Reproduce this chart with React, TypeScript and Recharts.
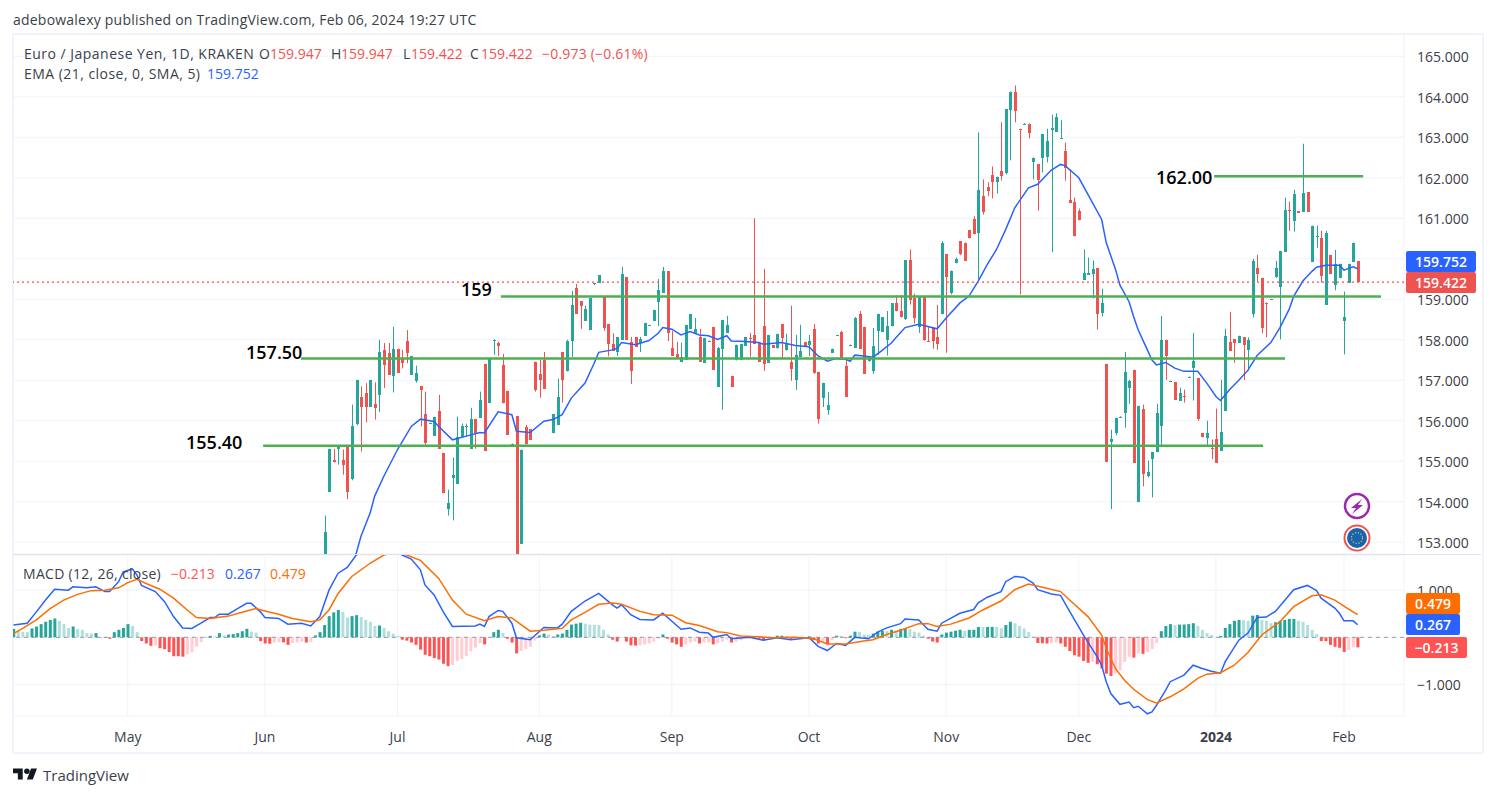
import React from 'react';
import {
  ComposedChart,
  Bar,
  Line,
  Cell,
  XAxis,
  YAxis,
  CartesianGrid,
  ReferenceLine,
} from 'recharts';

const FONT = '"Open Sans", sans-serif';
const UP = '#26a69a';
const DOWN = '#ef5350';
const GRID = '#f0f3fa';
const TEXT = '#3b3f4a';
const BLUE = '#2962ff';
const ORANGE = '#ff6d00';
const GREEN = '#4caf50';

const BAR_COUNT = 295;
const X_DOMAIN = [-0.11, 304.13];

const monthTicks = [25, 55, 84, 115, 144, 174, 204, 233, 263, 291];
const monthLabels = ['May', 'Jun', 'Jul', 'Aug', 'Sep', 'Oct', 'Nov', 'Dec', '2024', 'Feb'];
const priceTicks = [153, 154, 155, 156, 157, 158, 159, 160, 161, 162, 163, 164, 165];
const macdTicks = [-1, 0, 1];

// first visible candle, everything earlier sits under the price panel
const FIRST_CANDLE = 68;

// open, high, low, close
const ohlc: (number[] | null)[] = [
  [151.9, 153.66, 151.6, 153.26],
  [154.26, 155.31, 154.26, 155.31],
  [155.02, 155.31, 154.97, 154.97],
  [155.29, 155.39, 154.92, 155.39],
  [155.02, 155.29, 154.67, 154.89],
  [155.34, 155.34, 154.06, 154.23],
  [154.56, 156.4, 154.53, 155.88],
  [155.93, 157.01, 155.89, 157.01],
  [156.59, 156.85, 155.24, 156.35],
  [156.69, 156.93, 155.96, 156.35],
  [156.35, 157.01, 156.35, 157.01],
  [156.42, 156.95, 156.03, 156.32],
  [156.65, 158.0, 156.22, 157.7],
  [157.75, 157.92, 156.81, 157.39],
  [157.68, 157.92, 157.14, 157.14],
  [157.12, 158.32, 156.7, 157.78],
  [157.78, 157.78, 157.19, 157.19],
  [157.54, 157.75, 157.29, 157.41],
  [157.97, 158.24, 157.42, 157.68],
  [157.14, 157.6, 157.14, 157.6],
  [156.99, 157.36, 156.94, 157.18],
  [156.86, 156.86, 155.86, 156.77],
  [156.17, 156.72, 155.37, 155.46],
  [155.94, 155.95, 155.93, 155.95],
  [155.62, 156.1, 155.62, 156.1],
  [156.25, 156.64, 155.32, 155.32],
  [155.21, 155.21, 154.21, 154.21],
  [153.83, 154.3, 153.66, 153.98],
  [154.57, 155.09, 153.54, 154.65],
  [154.46, 156.1, 154.46, 155.61],
  [155.61, 155.93, 155.61, 155.88],
  [155.87, 155.93, 155.61, 155.88],
  [155.31, 156.32, 155.31, 156.05],
  [156.05, 156.05, 155.31, 155.71],
  [156.08, 156.72, 156.08, 156.52],
  [157.41, 157.41, 155.25, 155.25],
  [156.45, 157.55, 156.45, 157.55],
  [157.99, 158.01, 157.63, 158.0],
  [157.92, 157.95, 157.6, 157.85],
  [157.38, 157.65, 156.43, 156.43],
  [156.74, 156.74, 155.66, 155.66],
  [155.42, 155.44, 155.41, 155.43],
  [156.12, 156.12, 152.4, 152.5],
  [152.97, 155.29, 152.97, 155.29],
  [155.85, 155.9, 155.41, 155.43],
  [155.8, 155.8, 155.53, 155.53],
  [157.46, 157.46, 156.72, 156.77],
  [157.16, 157.5, 156.57, 157.0],
  [157.5, 157.7, 156.79, 156.79],
  null,
  [155.69, 156.17, 155.69, 156.17],
  [155.89, 157.04, 155.89, 156.59],
  [157.7, 157.7, 156.45, 157.0],
  [157.22, 158.0, 157.22, 157.97],
  [157.97, 159.21, 157.58, 158.86],
  [159.28, 159.38, 158.64, 158.64],
  [158.96, 158.96, 158.27, 158.84],
  [158.47, 158.84, 158.47, 158.76],
  [158.24, 159.03, 158.24, 159.03],
  [159.37, 159.4, 159.35, 159.4],
  [159.4, 159.6, 159.4, 159.6],
  [159.08, 159.08, 158.22, 158.29],
  [158.39, 158.39, 157.59, 157.9],
  [157.9, 158.16, 157.73, 157.73],
  [157.7, 158.07, 157.6, 158.07],
  [158.0, 159.8, 158.0, 159.63],
  [159.55, 159.55, 158.0, 158.0],
  [157.94, 158.07, 156.91, 157.23],
  [158.07, 158.07, 157.83, 157.83],
  [157.92, 158.07, 157.7, 158.02],
  [158.1, 158.42, 158.1, 158.42],
  [158.35, 158.37, 158.34, 158.36],
  [158.47, 158.74, 158.47, 158.74],
  [158.94, 159.5, 158.34, 159.23],
  [159.16, 159.8, 159.16, 159.7],
  [159.7, 159.7, 157.97, 158.17],
  [157.8, 158.22, 157.6, 157.6],
  [157.65, 157.95, 157.55, 157.55],
  [157.45, 157.93, 157.45, 157.58],
  [157.5, 158.37, 157.5, 158.37],
  [158.26, 158.64, 158.26, 158.64],
  [158.15, 158.54, 158.15, 158.26],
  [158.07, 158.27, 157.46, 157.46],
  [157.43, 158.05, 157.43, 158.05],
  [157.96, 157.98, 157.95, 157.97],
  [158.32, 158.32, 157.26, 157.26],
  [156.84, 157.82, 156.84, 157.8],
  [157.78, 158.49, 156.27, 158.49],
  [158.17, 158.59, 158.17, 158.37],
  [157.11, 157.11, 156.84, 156.84],
  [157.51, 157.88, 157.49, 157.88],
  [157.51, 157.9, 157.51, 157.9],
  [157.85, 158.07, 157.85, 158.07],
  [158.05, 158.17, 157.58, 158.04],
  [158.12, 161.0, 157.9, 157.9],
  [157.92, 157.92, 157.46, 157.46],
  [158.34, 159.75, 157.23, 157.41],
  [157.43, 158.12, 157.43, 158.12],
  [157.87, 157.87, 157.8, 157.8],
  [157.8, 158.15, 157.78, 158.15],
  [158.39, 158.39, 157.55, 158.05],
  [157.75, 158.15, 157.73, 157.92],
  [157.46, 158.84, 156.99, 157.28],
  [157.01, 158.12, 156.76, 157.63],
  [157.58, 158.37, 157.58, 157.73],
  [157.95, 157.95, 157.83, 157.83],
  [157.87, 158.12, 157.6, 157.97],
  [158.26, 158.39, 157.16, 157.18],
  [157.21, 157.21, 155.93, 156.05],
  [156.57, 156.94, 156.34, 156.94],
  [156.27, 156.71, 156.15, 156.39],
  [157.68, 157.78, 157.68, 157.78],
  [158.1, 158.12, 158.09, 158.11],
  [158.2, 158.22, 157.5, 157.5],
  [157.36, 157.5, 156.59, 156.59],
  [157.86, 157.88, 157.85, 157.87],
  [157.8, 158.56, 157.8, 158.54],
  [158.64, 158.71, 157.78, 157.78],
  [158.32, 158.32, 157.16, 157.16],
  [157.46, 157.57, 157.46, 157.57],
  [157.23, 158.29, 157.16, 157.85],
  [158.22, 158.64, 157.63, 158.64],
  [158.19, 158.56, 158.19, 158.56],
  [158.0, 158.71, 157.61, 158.34],
  [158.33, 158.9, 158.33, 158.9],
  [158.9, 159.1, 158.7, 158.7],
  [158.7, 159.1, 158.55, 158.55],
  [158.5, 159.96, 158.49, 159.96],
  [159.96, 160.23, 158.87, 158.97],
  [159.02, 159.14, 158.4, 158.53],
  [158.31, 159.05, 158.17, 159.05],
  [159.05, 159.05, 157.98, 157.98],
  [157.98, 158.31, 157.96, 157.96],
  [158.29, 158.32, 157.78, 157.98],
  [158.07, 158.86, 157.75, 157.9],
  [158.65, 160.43, 158.63, 160.4],
  [160.11, 160.11, 157.68, 159.54],
  [159.17, 159.71, 159.12, 159.71],
  [159.89, 160.03, 159.89, 159.99],
  [160.43, 160.43, 160.09, 160.11],
  [160.4, 160.4, 159.96, 159.96],
  [160.7, 160.7, 160.5, 160.5],
  [160.97, 161.05, 160.6, 160.6],
  [160.63, 163.12, 159.49, 161.69],
  [161.56, 161.96, 161.09, 161.17],
  [161.76, 161.89, 161.54, 161.66],
  [162.06, 162.28, 161.49, 161.89],
  [161.91, 162.03, 161.61, 162.03],
  [162.16, 163.37, 161.93, 162.03],
  [162.11, 163.69, 162.08, 163.69],
  [163.69, 164.13, 162.43, 164.13],
  [164.13, 164.28, 163.37, 163.66],
  [163.21, 163.21, 159.12, 163.19],
  [163.33, 163.35, 163.32, 163.34],
  [163.34, 163.34, 162.97, 163.12],
  [162.4, 162.5, 161.96, 162.5],
  [162.33, 162.33, 161.19, 161.93],
  [162.48, 163.07, 162.13, 163.07],
  [162.5, 163.21, 162.38, 162.9],
  [163.19, 163.56, 160.16, 163.24],
  [163.14, 163.59, 163.14, 163.51],
  [162.98, 163.42, 162.97, 162.99],
  [162.65, 162.87, 161.93, 162.23],
  [161.46, 162.21, 161.39, 161.39],
  [161.39, 161.51, 160.55, 160.55],
  [161.17, 161.24, 160.95, 160.95],
  [159.49, 160.23, 159.49, 159.66],
  [159.61, 160.03, 159.61, 159.66],
  [159.61, 159.96, 159.02, 159.74],
  [159.76, 159.76, 158.25, 158.62],
  [158.67, 159.26, 158.58, 158.92],
  [157.41, 157.41, 154.98, 154.98],
  [155.46, 155.78, 153.82, 155.54],
  [155.71, 156.08, 155.64, 156.08],
  [156.09, 156.11, 156.08, 156.1],
  [156.2, 157.7, 155.83, 157.21],
  [156.82, 157.01, 156.42, 156.99],
  [157.26, 157.26, 154.97, 154.97],
  [153.99, 156.37, 153.99, 156.37],
  [156.3, 156.4, 154.38, 154.7],
  [154.63, 155.02, 154.6, 154.73],
  [155.05, 155.22, 154.11, 155.22],
  [155.22, 156.42, 155.22, 156.18],
  [155.88, 158.59, 155.37, 158.0],
  [158.0, 158.0, 157.01, 157.6],
  [156.97, 156.99, 156.96, 156.98],
  [156.96, 156.96, 156.52, 156.52],
  [156.5, 156.82, 156.5, 156.69],
  [156.61, 156.77, 156.45, 156.6],
  [157.07, 157.09, 157.06, 157.08],
  [157.31, 158.17, 156.5, 157.48],
  [157.06, 157.06, 156.0, 156.05],
  [155.69, 155.69, 155.59, 155.59],
  [155.59, 156.0, 155.39, 155.71],
  [155.33, 155.54, 155.05, 155.32],
  [155.56, 156.3, 154.97, 154.97],
  [155.27, 157.01, 155.27, 155.73],
  [156.25, 158.27, 156.25, 158.1],
  [157.95, 158.69, 157.73, 157.73],
  [158.02, 158.02, 157.43, 157.92],
  [157.92, 158.1, 157.92, 158.1],
  [158.07, 158.07, 157.01, 157.88],
  [157.75, 158.06, 157.24, 158.0],
  [158.65, 160.0, 158.55, 159.95],
  [159.76, 160.1, 159.44, 159.61],
  [159.53, 159.53, 158.16, 158.3],
  [158.92, 158.92, 158.06, 158.89],
  [158.99, 159.01, 158.98, 159.0],
  [159.53, 159.95, 159.53, 159.76],
  [159.29, 160.18, 158.01, 160.18],
  [160.18, 161.51, 160.18, 161.21],
  [161.21, 161.41, 160.69, 161.19],
  [160.94, 161.7, 160.67, 161.6],
  [161.18, 161.18, 161.14, 161.14],
  [161.16, 162.84, 161.16, 161.63],
  [161.65, 161.65, 161.16, 161.16],
  [159.93, 160.82, 159.93, 160.82],
  [160.54, 160.82, 160.27, 160.55],
  [160.52, 160.69, 159.41, 159.58],
  [158.87, 160.69, 158.87, 160.64],
  [160.1, 160.1, 159.63, 159.63],
  [159.36, 160.22, 159.22, 159.88],
  [159.53, 159.88, 159.53, 159.88],
  [158.45, 159.19, 157.64, 158.55],
  [159.41, 159.88, 159.41, 159.88],
  [159.93, 160.4, 159.93, 160.4],
  [159.947, 159.947, 159.422, 159.422],
];

// EMA 21 read at [bar, value]
const emaPoints = [
  [72, 152.2], [75, 152.74], [76, 153.15], [78, 153.72], [79, 154.14], [81, 154.63], [84, 155.29], [87, 155.86],
  [89, 156.04], [92, 155.98], [93, 155.86], [96, 155.53], [99, 155.62], [102, 155.71], [103, 155.7], [106, 156.22],
  [109, 156.15], [110, 155.74], [113, 155.71], [116, 155.99], [118, 156.03], [120, 156.15], [122, 156.56],
  [125, 156.93], [127, 157.42], [128, 157.69], [131, 157.75], [132, 157.79], [133, 157.93], [136, 157.88],
  [139, 157.98], [141, 158.16], [142, 158.3], [144, 158.26], [146, 158.12], [148, 158.2], [150, 158.12], [152, 158.1],
  [154, 158.01], [156, 158.1], [157, 157.97], [160, 157.96], [163, 157.93], [164, 157.89], [168, 157.93],
  [171, 157.86], [174, 157.83], [175, 157.71], [176, 157.6], [178, 157.47], [180, 157.54], [182, 157.52], [183, 157.47],
  [184, 157.62], [186, 157.6], [188, 157.57], [190, 157.74], [192, 157.92], [193, 158.05], [195, 158.3], [198, 158.38],
  [202, 158.27], [204, 158.54], [207, 158.91], [209, 159.08], [211, 159.45], [213, 159.86], [215, 160.23], [217, 160.72],
  [219, 161.26], [222, 161.75], [224, 161.84], [227, 162.19], [229, 162.33], [230, 162.3], [233, 162.0], [235, 161.59],
  [238, 160.97], [239, 160.4], [241, 159.75], [242, 159.35], [244, 158.94], [245, 158.57], [246, 158.24], [248, 157.75],
  [249, 157.5], [250, 157.38], [252, 157.44], [254, 157.3], [256, 157.22], [259, 157.22], [261, 156.93], [263, 156.6],
  [264, 156.5], [266, 156.77], [268, 157.0], [270, 157.25], [272, 157.61], [275, 157.93], [277, 158.3], [279, 158.75],
  [280, 159.07], [282, 159.45], [284, 159.69], [285, 159.79], [287, 159.84], [290, 159.84], [291, 159.72], [293, 159.8],
  [294, 159.752],
];

const macdPoints = [
  [0, 0.26], [3, 0.3], [5, 0.54], [7, 0.79], [9, 1.02], [12, 1.0], [13, 1.07], [16, 1.05], [18, 1.07], [20, 0.97], [21, 0.97],
  [23, 1.18], [24, 1.39], [26, 1.45], [27, 1.32], [28, 1.1], [31, 0.97], [33, 0.76], [35, 0.44], [37, 0.2], [39, 0.19],
  [41, 0.3], [43, 0.42], [44, 0.42], [45, 0.49], [47, 0.49], [49, 0.61], [51, 0.72], [52, 0.72], [54, 0.54], [55, 0.42],
  [58, 0.4], [60, 0.28], [63, 0.3], [65, 0.24], [67, 0.44], [69, 1.0], [71, 1.36], [73, 1.48], [75, 1.75], [79, 1.9],
  [82, 1.95], [85, 1.745], [87, 1.66], [89, 1.43], [90, 1.11], [92, 0.9], [94, 0.54], [96, 0.23], [101, 0.24], [102, 0.28],
  [103, 0.23], [104, 0.44], [106, 0.57], [107, 0.55], [109, 0.3], [110, -0.01], [113, -0.05], [116, 0.21], [119, 0.2],
  [120, 0.28], [122, 0.55], [125, 0.77], [128, 0.93], [131, 0.69], [132, 0.62], [133, 0.69], [135, 0.48], [137, 0.38],
  [140, 0.37], [142, 0.51], [146, 0.17], [148, 0.2], [150, 0.11], [152, 0.09], [153, 0.0], [156, 0.06], [157, -0.03],
  [161, 0.0], [164, -0.06], [167, -0.01], [170, -0.05], [174, -0.01], [176, -0.19], [178, -0.28], [180, -0.13],
  [182, -0.17], [184, 0.0], [187, -0.03], [189, 0.11], [191, 0.2], [194, 0.29], [195, 0.39], [198, 0.37], [200, 0.17],
  [202, 0.13], [203, 0.3], [207, 0.51], [210, 0.59], [211, 0.73], [213, 0.85], [216, 0.97], [217, 1.18], [219, 1.29],
  [221, 1.27], [223, 1.15], [224, 1.01], [227, 0.92], [229, 0.89], [231, 0.55], [234, 0.05], [237, -0.41], [238, -0.59],
  [239, -0.94], [240, -1.19], [242, -1.42], [244, -1.37], [245, -1.49], [246, -1.46], [248, -1.62], [249, -1.58],
  [250, -1.44], [252, -1.12], [253, -0.94], [256, -0.8], [258, -0.59], [260, -0.66], [262, -0.72], [264, -0.76],
  [265, -0.52], [268, -0.06], [270, 0.09], [272, 0.42], [274, 0.43], [276, 0.55], [280, 1.01], [283, 1.1], [285, 0.99],
  [286, 0.83], [289, 0.62], [290, 0.51], [291, 0.35], [293, 0.35], [294, 0.267],
];

const signalPoints = [
  [0, 0.08], [2, 0.19], [5, 0.37], [8, 0.61], [11, 0.79], [14, 0.91], [17, 0.99], [20, 1.0], [23, 1.05], [25, 1.16],
  [27, 1.23], [29, 1.14], [32, 1.02], [35, 0.83], [38, 0.58], [40, 0.42], [43, 0.4], [47, 0.45], [50, 0.53], [53, 0.61],
  [55, 0.56], [58, 0.49], [61, 0.4], [65, 0.33], [67, 0.37], [69, 0.58], [71, 0.93], [74, 1.29], [78, 1.57], [81, 1.745],
  [84, 1.82], [86, 1.745], [89, 1.63], [93, 1.25], [96, 0.79], [99, 0.49], [103, 0.35], [106, 0.44], [109, 0.41], [111, 0.27],
  [113, 0.13], [116, 0.15], [120, 0.19], [122, 0.37], [125, 0.53], [128, 0.7], [131, 0.73], [133, 0.7], [137, 0.55], [140, 0.48],
  [144, 0.47], [147, 0.31], [150, 0.25], [154, 0.12], [156, 0.1], [159, 0.03], [163, 0.01], [166, -0.01], [171, 0.0],
  [175, -0.03], [178, -0.14], [182, -0.14], [186, -0.08], [188, -0.05], [191, 0.06], [194, 0.15], [198, 0.29], [200, 0.29],
  [202, 0.23], [205, 0.28], [209, 0.41], [212, 0.58], [216, 0.77], [219, 1.01], [222, 1.13], [226, 1.04], [229, 0.97],
  [231, 0.79], [235, 0.44], [238, 0.05], [239, -0.23], [241, -0.66], [243, -0.91], [245, -1.1], [248, -1.32], [250, -1.39],
  [253, -1.26], [256, -1.09], [259, -0.87], [261, -0.78], [264, -0.75], [267, -0.59], [270, -0.32], [273, 0.05], [277, 0.33],
  [280, 0.65], [284, 0.88], [286, 0.9], [289, 0.79], [292, 0.6], [294, 0.479],
];

const histogram = [
  0.18, 0.15, 0.12, 0.11, 0.19, 0.23, 0.28, 0.33, 0.37, 0.4, 0.35, 0.28, 0.2, 0.23, 0.18, 0.16, 0.09, 0.08, 0.09, -0.01,
  -0.01, -0.03, 0.11, 0.16, 0.2, 0.28, 0.24, 0.11, -0.08, -0.13, -0.18, -0.17, -0.23, -0.25, -0.31, -0.4, -0.4, -0.41,
  -0.36, -0.32, -0.2, -0.1, 0.01, 0.03, 0.02, 0.09, 0.04, 0.06, 0.07, 0.09, 0.13, 0.18, 0.12, 0.1, -0.08, -0.13, -0.135,
  -0.11, -0.1, -0.106, -0.16, -0.12, -0.11, -0.09, -0.11, -0.1, 0.04, 0.11, 0.26, 0.45, 0.53, 0.58, 0.54, 0.42, 0.45,
  0.47, 0.43, 0.37, 0.33, 0.24, 0.25, 0.2, 0.13, 0.08, 0.03, -0.05, -0.07, -0.11, -0.16, -0.26, -0.37, -0.4, -0.44, -0.47,
  -0.56, -0.61, -0.59, -0.5, -0.46, -0.4, -0.3, -0.22, -0.12, -0.15, -0.01, 0.11, 0.16, 0.09, -0.03, -0.11, -0.34, -0.29,
  -0.24, -0.2, -0.07, 0.04, 0.08, 0.06, 0.03, 0.06, 0.08, 0.16, 0.27, 0.29, 0.31, 0.29, 0.27, 0.265, 0.26, 0.16, 0.06,
  -0.05, -0.09, -0.01, -0.09, -0.17, -0.175, -0.17, -0.15, -0.13, -0.09, -0.03, 0.06, -0.03, -0.11, -0.15, -0.2, -0.15,
  -0.11, -0.09, -0.13, -0.11, -0.105, -0.15, -0.13, -0.09, -0.05, -0.11, -0.09, -0.06, -0.01, -0.005, -0.015, -0.03,
  -0.06, -0.02, 0.0, 0.035, 0.035, 0.03, -0.03, -0.02, -0.025, -0.02, 0.02, -0.06, -0.13, -0.1, -0.15, -0.06, 0.035,
  0.03, -0.02, 0.035, 0.12, 0.115, 0.06, 0.055, 0.08, 0.12, 0.14, 0.135, 0.16, 0.14, 0.18, 0.18, 0.175, 0.12, 0.1, 0.035,
  -0.03, -0.09, -0.11, 0.06, 0.1, 0.12, 0.14, 0.16, 0.14, 0.16, 0.161, 0.22, 0.218, 0.22, 0.221, 0.22, 0.19, 0.26, 0.33,
  0.3, 0.24, 0.19, 0.11, 0.01, -0.12, -0.125, -0.13, -0.12, -0.11, -0.13, -0.2, -0.29, -0.38, -0.41, -0.5, -0.54, -0.52,
  -0.57, -0.66, -0.77, -0.82, -0.76, -0.7, -0.52, -0.41, -0.43, -0.34, -0.35, -0.31, -0.25, -0.12, 0.13, 0.24, 0.28, 0.26,
  0.27, 0.272, 0.28, 0.3, 0.24, 0.16, 0.09, 0.05, 0.01, 0.03, 0.2, 0.28, 0.35, 0.37, 0.365, 0.35, 0.46, 0.475, 0.37, 0.35,
  0.3, 0.32, 0.35, 0.37, 0.39, 0.391, 0.35, 0.33, 0.26, 0.16, 0.07, -0.08, -0.081, -0.16, -0.2, -0.22, -0.31, -0.27, -0.21,
  -0.213,
];

// drawn support lines: price, first bar, last bar
const supportLevels = [
  [162.04, 262.6, 295.2],
  [159.07, 106.6, 299.1],
  [157.54, 62.9, 278.1],
  [155.38, 54.6, 273.3],
];

const LAST_PRICE = 159.422;

const emaByBar = new Map(emaPoints.map(([i, v]) => [i, v]));
const macdByBar = new Map(macdPoints.map(([i, v]) => [i, v]));
const signalByBar = new Map(signalPoints.map(([i, v]) => [i, v]));

const rows = Array.from({ length: BAR_COUNT }, (_, i) => {
  const c = i >= FIRST_CANDLE ? ohlc[i - FIRST_CANDLE] : null;
  return {
    i,
    open: c ? c[0] : null,
    high: c ? c[1] : null,
    low: c ? c[2] : null,
    close: c ? c[3] : null,
    ema: emaByBar.get(i) ?? null,
    macd: macdByBar.get(i) ?? null,
    signal: signalByBar.get(i) ?? null,
    hist: histogram[i] ?? 0,
  };
});

function histColor(i: number) {
  const v = histogram[i];
  const prev = i > 0 ? histogram[i - 1] : v;
  if (v >= 0) return v >= prev ? UP : '#b2dfdb';
  return v <= prev ? '#ff5252' : '#ffcdd2';
}

function Candle(props: any) {
  const { x, y, width, height, payload } = props;
  if (payload.high == null) return <g />;
  const { open, high, low, close } = payload;
  const perUnit = height / (high - low);
  const cx = Math.round(x + width / 2);
  const color = close >= open ? UP : DOWN;
  const top = Math.round(y + (high - Math.max(open, close)) * perUnit);
  const bodyH = Math.max(1, Math.round(Math.abs(open - close) * perUnit));
  return (
    <g>
      <rect x={cx} y={y} width={1} height={height} fill={color} />
      <rect x={cx - 1} y={top} width={3} height={bodyH} fill={color} />
    </g>
  );
}

function MonthTick(props: any) {
  const { x, y, payload } = props;
  const label = monthLabels[monthTicks.indexOf(payload.value)];
  return (
    <text
      x={x}
      y={y + 24}
      textAnchor="middle"
      fontFamily={FONT}
      fontSize={14}
      fontWeight={label === '2024' ? 700 : 400}
      fill={TEXT}
    >
      {label}
    </text>
  );
}

function Label({ x, y, color = TEXT, size = 14, weight = 400, spacing = 0, children }: any) {
  return (
    <span
      style={{
        position: 'absolute',
        left: x,
        top: y,
        transform: 'translateY(-50%)',
        fontFamily: FONT,
        fontSize: size,
        fontWeight: weight,
        letterSpacing: spacing,
        color,
        whiteSpace: 'nowrap',
        lineHeight: 1,
      }}
    >
      {children}
    </span>
  );
}

function Tag({ x, y, w, h = 21, bg, children }: any) {
  return (
    <div
      style={{
        position: 'absolute',
        left: x,
        top: y,
        width: w,
        height: h,
        background: bg,
        borderRadius: 2,
        color: '#fff',
        fontFamily: FONT,
        fontSize: 14,
        fontWeight: 600,
        lineHeight: `${h}px`,
        textAlign: 'center',
      }}
    >
      {children}
    </div>
  );
}

export default function App() {
  const axisText = { fontFamily: FONT, fontSize: 14, fill: TEXT, dy: 1 };
  return (
    <div style={{ position: 'absolute', left: 0, top: 0, width: 1494, height: 796, background: '#fff', overflow: 'hidden' }}>
      <Label x={13} y={20} spacing={0.22}>adebowalexy published on TradingView.com, Feb 06, 2024 19:27 UTC</Label>

      <div
        style={{
          position: 'absolute',
          left: 12,
          top: 33,
          width: 1468,
          height: 717,
          border: `2px solid ${GRID}`,
        }}
      />
      <div style={{ position: 'absolute', left: 13, top: 554, width: 1468, height: 1, background: '#e0e3eb' }} />

      <div style={{ position: 'absolute', left: 13, top: 34 }}>
        <ComposedChart width={1468} height={520} data={rows} margin={{ top: 0, right: 0, bottom: 0, left: 0 }}>
          <CartesianGrid stroke={GRID} />
          <XAxis
            dataKey="i"
            type="number"
            domain={X_DOMAIN}
            allowDataOverflow
            ticks={monthTicks}
            tick={false}
            tickLine={false}
            axisLine={false}
            height={0}
          />
          <YAxis
            orientation="right"
            width={77}
            domain={[152.71, 165.55]}
            allowDataOverflow
            ticks={priceTicks}
            interval={0}
            axisLine={false}
            tickLine={false}
            tickSize={0}
            tickMargin={13}
            tick={axisText}
            tickFormatter={(v: number) => (v === 160 ? '' : v.toFixed(3))}
          />
          <Bar dataKey={(d: any) => (d.high == null ? null : [d.low, d.high])} barSize={3} shape={<Candle />} isAnimationActive={false} />
          <Line dataKey="ema" stroke={BLUE} strokeWidth={1.5} dot={false} connectNulls isAnimationActive={false} />
          <ReferenceLine y={LAST_PRICE} stroke={DOWN} strokeWidth={1.2} strokeDasharray="2 3" />
          {supportLevels.map(([price, from, to]) => (
            <ReferenceLine
              key={price}
              segment={[
                { x: from, y: price },
                { x: to, y: price },
              ]}
              stroke={GREEN}
              strokeWidth={2.5}
            />
          ))}
        </ComposedChart>
      </div>

      <div style={{ position: 'absolute', left: 13, top: 555 }}>
        <ComposedChart width={1468} height={197} data={rows} margin={{ top: 0, right: 0, bottom: 0, left: 0 }}>
          <CartesianGrid stroke={GRID} />
          <XAxis
            dataKey="i"
            type="number"
            domain={X_DOMAIN}
            allowDataOverflow
            ticks={monthTicks}
            interval={0}
            height={36}
            axisLine={false}
            tickLine={false}
            tickSize={0}
            tick={<MonthTick />}
          />
          <YAxis
            orientation="right"
            width={77}
            domain={[-1.667, 1.745]}
            allowDataOverflow
            ticks={macdTicks}
            interval={0}
            axisLine={false}
            tickLine={false}
            tickSize={0}
            tickMargin={13}
            tick={axisText}
            tickFormatter={(v: number) => (v === 0 ? '' : v < 0 ? `\u2212${Math.abs(v).toFixed(3)}` : v.toFixed(3))}
          />
          <ReferenceLine y={0} stroke="#787b86" strokeDasharray="4 4" strokeOpacity={0.7} />
          <Bar dataKey="hist" barSize={3} isAnimationActive={false}>
            {rows.map((r) => (
              <Cell key={r.i} fill={histColor(r.i)} />
            ))}
          </Bar>
          <Line dataKey="macd" stroke={BLUE} strokeWidth={1.5} dot={false} connectNulls isAnimationActive={false} />
          <Line dataKey="signal" stroke={ORANGE} strokeWidth={1.5} dot={false} connectNulls isAnimationActive={false} />
        </ComposedChart>
      </div>

      <Label x={24} y={54} spacing={0.48}>Euro / Japanese Yen, 1D, KRAKEN</Label>
      <Label x={259} y={54}>O</Label>
      <Label x={270} y={54} color={DOWN}>159.947</Label>
      <Label x={331} y={54}>H</Label>
      <Label x={341} y={54} color={DOWN}>159.947</Label>
      <Label x={403} y={54}>L</Label>
      <Label x={411} y={54} color={DOWN}>159.422</Label>
      <Label x={470} y={54}>C</Label>
      <Label x={481} y={54} color={DOWN}>159.422</Label>
      <Label x={542} y={54} color={DOWN} spacing={0.2}>{'\u22120.973 (\u22120.61%)'}</Label>
      <Label x={24} y={74} spacing={0.46}>EMA (21, close, 0, SMA, 5)</Label>
      <Label x={207} y={74} color={BLUE}>159.752</Label>

      <Label x={23} y={574} spacing={0.3}>MACD (12, 26, close)</Label>
      <Label x={171} y={574} color="#ff5252">{'\u22120.213'}</Label>
      <Label x={225} y={574} color={BLUE}>0.267</Label>
      <Label x={270} y={574} color={ORANGE}>0.479</Label>

      <Label x={1156} y={177} size={18} color="#000" weight={600}>162.00</Label>
      <Label x={461} y={289} size={18} color="#000" weight={600}>159</Label>
      <Label x={246} y={352} size={18} color="#000" weight={600}>157.50</Label>
      <Label x={186} y={442} size={18} color="#000" weight={600}>155.40</Label>

      <Tag x={1406} y={251} w={70} bg={BLUE}>159.752</Tag>
      <Tag x={1406} y={272} w={70} bg={DOWN}>159.422</Tag>
      <Tag x={1406} y={593} w={54} bg={ORANGE}>0.479</Tag>
      <Tag x={1406} y={614} w={54} bg={BLUE}>0.267</Tag>
      <Tag x={1406} y={637} w={61} bg="#ff5252">{'\u22120.213'}</Tag>

      <svg style={{ position: 'absolute', left: 1342, top: 491 }} width={30} height={62}>
        <circle cx={15} cy={15} r={12} fill="#fff" stroke="#9c27b0" strokeWidth={2.5} />
        <path d="M20 8 L9 17 L14 17 L10 23 L21 14 L16 14 Z" fill="#9c27b0" />
        <circle cx={15} cy={47} r={12.5} fill="#fff" stroke="#ef5350" strokeWidth={2} />
        <circle cx={15} cy={47} r={10} fill="#1a63ad" />
        <circle cx={15} cy={47} r={5.5} fill="none" stroke="#d8c75a" strokeWidth={1.2} strokeDasharray="1.2 1.7" />
      </svg>

      <svg style={{ position: 'absolute', left: 13, top: 767 }} width={25} height={14} viewBox="0 4 36 20">
        <path d="M14 6H0v7h7v9h7V6Zm14.5 16H20l6-16h8.5l-6 16Z" fill="#131722" />
        <circle cx={20} cy={10} r={4} fill="#131722" />
      </svg>
      <Label x={43} y={775} size={15} color="#3b3f4a">TradingView</Label>
    </div>
  );
}
